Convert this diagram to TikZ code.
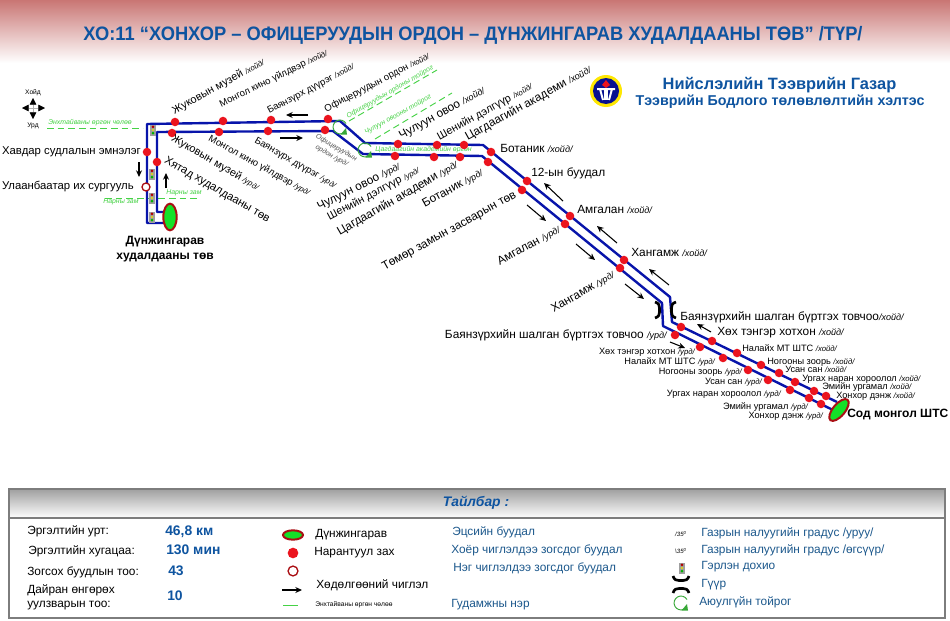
\documentclass[tikz,border=0pt]{standalone}
\usepackage{xcolor}
\usepackage{fontspec}
\setmainfont{Liberation Sans}
\usetikzlibrary{arrows.meta, positioning, calc, shapes.geometric}
\definecolor{RouteBlue}{RGB}{8, 20, 170}
\definecolor{TitleBlue}{RGB}{14, 84, 160}
\definecolor{LegendBlue}{RGB}{28, 88, 140}
\definecolor{StopRed}{RGB}{235, 20, 30}
\definecolor{RingRed}{RGB}{170, 15, 20}
\definecolor{EndGreen}{RGB}{20, 225, 40}
\definecolor{StreetGreen}{RGB}{70, 210, 70}
\definecolor{BandRed}{RGB}{201, 118, 116}
\definecolor{FrameGray}{RGB}{125, 125, 125}
\newcommand{\dirn}{{\fontsize{6.8}{7}\selectfont\itshape /хойд/}}
\newcommand{\dirs}{{\fontsize{6.8}{7}\selectfont\itshape /урд/}}
\newcommand{\dirnS}{{\fontsize{5.8}{6}\selectfont\itshape /хойд/}}
\newcommand{\dirsS}{{\fontsize{5.8}{6}\selectfont\itshape /урд/}}
\tikzset{
  routeline/.style={draw=RouteBlue, line width=1.8pt, line join=round},
  stopdot/.style={circle, fill=StopRed, minimum size=6.4pt, inner sep=0pt},
  hollowdot/.style={circle, fill=white, draw=RingRed, line width=1pt, minimum size=6pt, inner sep=0pt},
  endoval/.style={ellipse, fill=EndGreen, draw=RingRed, line width=1.5pt, inner sep=0pt},
  movearrow/.style={-{Stealth[length=5pt,width=4.5pt]}, line width=0.8pt, black},
  streetline/.style={draw=StreetGreen, dashed, dash pattern=on 5pt off 3pt, line width=0.7pt},
  streetname/.style={inner sep=0pt, text=StreetGreen, font=\fontsize{5.2}{6}\selectfont\itshape},
  lblhuge/.style={inner sep=0pt, anchor=west, font=\fontsize{8.9}{10}\selectfont},
  lblbig/.style={inner sep=0pt, anchor=west, font=\fontsize{8.5}{10}\selectfont},
  lblmid/.style={inner sep=0pt, anchor=west, font=\fontsize{8.2}{9.5}\selectfont},
  lblthin/.style={inner sep=0pt, anchor=west, font=\fontsize{7.2}{8.5}\selectfont},
  lblsmall/.style={inner sep=0pt, anchor=west, font=\fontsize{6.9}{8}\selectfont},
  lblbold/.style={inner sep=0pt, align=center, font=\fontsize{9}{11}\selectfont\bfseries},
  keytext/.style={inner sep=0pt, anchor=west, font=\fontsize{8.9}{10.5}\selectfont},
  keyblue/.style={keytext, text=LegendBlue},
  keyvalue/.style={inner sep=0pt, anchor=west, text=TitleBlue, font=\fontsize{10.4}{12}\selectfont\bfseries},
  signal/.pic={
    \fill[gray!75] (-3,-5.5) rectangle (3,5.5);
    \fill[red!70!black] (0,-3.2) circle (1.1pt);
    \fill[yellow!85!black] (0,0) circle (1.1pt);
    \fill[green!70!black] (0,3.2) circle (1.1pt);
  },
  bridgehalf/.pic={
    \draw[black, line width=2pt] (-3,-8) .. controls (1,-6.5) and (1.5,-5) .. (1.5,-2) -- (1.5,2)
      .. controls (1.5,5) and (1,6.5) .. (-3,8);
  },
  safering/.pic={
    \draw[StreetGreen!80!black, line width=0.7pt] (6,-3.5)
      arc[start angle=30, end angle=290, radius=5.2pt];
    \fill[StreetGreen!80!black] (0.5,7.5) -- (7,7.5) -- (6,1) -- cycle;
  }
}
\begin{document}
\begin{tikzpicture}[x=0.75pt, y=-0.75pt]
  \useasboundingbox (0,0) rectangle (950,621);
  \fill[white] (0,0) rectangle (950,621);
  \shade[top color=BandRed, bottom color=white] (0,0) rectangle (950,63);

  % heading
  \node[inner sep=0pt, xscale=0.94, text=TitleBlue, font=\fontsize{14.6}{17}\selectfont\bfseries] (title) at (473,35)
    {ХО:11 “ХОНХОР – ОФИЦЕРУУДЫН ОРДОН – ДҮНЖИНГАРАВ ХУДАЛДААНЫ ТӨВ” /ТҮР/};
  \node[circle, fill=yellow!90!orange, minimum size=24pt, inner sep=0pt] (logo) at (606,91) {};
  \node[circle, fill=RouteBlue!85!black, minimum size=19.5pt, inner sep=0pt] (logoin) at (606,91) {};
  \fill[StopRed] (606,80) -- (610,85) -- (606,88) -- (602,85) -- cycle;
  \draw[white, line width=1.5pt] (597,89) -- (615,89) (600,89) -- (603,100) (612,89) -- (609,100);
  \fill[white] (604,90) rectangle (608,100);
  \node[inner sep=0pt, text=TitleBlue, font=\fontsize{12.3}{14}\selectfont\bfseries] (cityname) at (779.5,85)
    {Нийслэлийн Тээврийн Газар};
  \node[inner sep=0pt, text=TitleBlue, font=\fontsize{10.7}{12}\selectfont\bfseries] (deptname) at (780,102)
    {Тээврийн Бодлого төлөвлөлтийн хэлтэс};

  % compass
  \node[inner sep=0pt] (compass) at (33,108) {};
  \node[inner sep=0pt, font=\fontsize{5}{6}\selectfont] (compassn) at (33,93) {Хойд};
  \node[inner sep=0pt, font=\fontsize{5}{6}\selectfont] (compasss) at (33,126) {Урд};
  \draw[gray!60, {Triangle[length=5pt,width=5pt,black]}-{Triangle[length=5pt,width=5pt,black]}] (22,108) -- (45,108);
  \draw[gray!60, {Triangle[length=5pt,width=5pt,black]}-{Triangle[length=5pt,width=5pt,black]}] (33,98) -- (33,119);

  % streets
  \draw[streetline] (47,128) -- (143,128);
  \draw[streetline] (105,198) -- (200,198);
  \draw[streetline] (349,121) -- (437,70);
  \draw[streetline] (375,139) -- (452,93);
  \node[streetname, anchor=west] (streetA) at (48,123) {Энхтайваны өргөн чөлөө};
  \node[streetname, anchor=west] (streetB) at (166,193) {Нарны зам};
  \node[streetname, anchor=west] (streetC) at (103,202) {Нарны зам};
  \node[streetname, anchor=west, rotate=30] (streetD) at (347,117) {Офицеруудын ордоны тойрог};
  \node[streetname, anchor=west, rotate=29] (streetE) at (365,133) {Чулуун овооны тойрог};
  \node[streetname, anchor=west] (streetF) at (375,150) {Цагдаагийн академийн өргөн};

  % route
  \coordinate (nA) at (165,223);
  \coordinate (nB) at (147,223);
  \coordinate (nC) at (147,124);
  \coordinate (nD) at (340,121);
  \coordinate (nE) at (365,143);
  \coordinate (nF) at (483,145);
  \coordinate (nG) at (670,297);
  \coordinate (nH) at (672,322);
  \coordinate (nI) at (837,402);
  \coordinate (sA) at (165,212);
  \coordinate (sB) at (157,212);
  \coordinate (sC) at (157,132);
  \coordinate (sD) at (333,131);
  \coordinate (sE) at (363,154);
  \coordinate (sF) at (482,156);
  \coordinate (sG) at (662,303);
  \coordinate (sH) at (663,326);
  \coordinate (sI) at (835,411);
  \draw[routeline] (nA) -- (nB) -- (nC) -- (nD) -- (nE) -- (nF) -- (nG) -- (nH) -- (nI);
  \draw[routeline] (sA) -- (sB) -- (sC) -- (sD) -- (sE) -- (sF) -- (sG) -- (sH) -- (sI);

  \pic at (153,130) {signal};
  \pic at (152,174) {signal};
  \pic at (152,198) {signal};
  \pic at (152,217) {signal};
  \pic at (658,310) {bridgehalf};
  \pic[rotate=180] at (673,310) {bridgehalf};
  \pic at (340,127) {safering};
  \pic at (365,150) {safering};

  \node[endoval, minimum width=10pt, minimum height=20pt] (depotW) at (170,217) {};
  \node[endoval, minimum width=20pt, minimum height=9pt, rotate=50] (depotE) at (839,410) {};

  % stops, northbound
  \node[stopdot] (zhukovN) at (175,122) {};
  \node[stopdot] (kinoN) at (223,121) {};
  \node[stopdot] (bayanN) at (271,120) {};
  \node[stopdot] (officerN) at (328,119) {};
  \node[stopdot] (ovooN) at (398,144) {};
  \node[stopdot] (sheniinN) at (437,145) {};
  \node[stopdot] (policeN) at (464,145) {};
  \node[stopdot] (botanikN) at (491,152) {};
  \node[stopdot] (twelveN) at (527,181) {};
  \node[stopdot] (amgalanN) at (570,216) {};
  \node[stopdot] (khangamjN) at (624,260) {};
  \node[stopdot] (checkN) at (681,327) {};
  \node[stopdot] (khukhN) at (712,341) {};
  \node[stopdot] (nalaikhN) at (737,353) {};
  \node[stopdot] (nogoonN) at (761,365) {};
  \node[stopdot] (usanN) at (779,373) {};
  \node[stopdot] (urgakhN) at (795,382) {};
  \node[stopdot] (emiinN) at (814,391) {};
  \node[stopdot] (khonkhorN) at (826,396) {};
  \node[stopdot] (cancerN) at (147,152) {};
  \node[hollowdot] (univN) at (146,187) {};

  % stops, southbound
  \node[stopdot] (zhukovS) at (172,133) {};
  \node[stopdot] (kinoS) at (219,132) {};
  \node[stopdot] (bayanS) at (268,131) {};
  \node[stopdot] (officerS) at (325,130) {};
  \node[stopdot] (ovooS) at (395,156) {};
  \node[stopdot] (sheniinS) at (434,157) {};
  \node[stopdot] (policeS) at (460,157) {};
  \node[stopdot] (botanikS) at (488,162) {};
  \node[stopdot] (railS) at (522,190) {};
  \node[stopdot] (amgalanS) at (565,224) {};
  \node[stopdot] (khangamjS) at (620,268) {};
  \node[stopdot] (checkS) at (675,335) {};
  \node[stopdot] (khukhS) at (700,347) {};
  \node[stopdot] (nalaikhS) at (723,358) {};
  \node[stopdot] (nogoonS) at (748,370) {};
  \node[stopdot] (usanS) at (768,380) {};
  \node[stopdot] (urgakhS) at (790,390) {};
  \node[stopdot] (emiinS) at (809,398) {};
  \node[stopdot] (khonkhorS) at (821,404) {};
  \node[stopdot] (chinaS) at (157,162) {};

  % direction arrows
  \draw[movearrow] (308,115) -- (286,115);
  \draw[movearrow] (280,138) -- (303,138);
  \draw[movearrow] (139,162) -- (139,177);
  \draw[movearrow] (166,188) -- (166,173);
  \draw[movearrow] (563,201) -- (544,183);
  \draw[movearrow] (617,243) -- (597,226);
  \draw[movearrow] (669,285) -- (649,269);
  \draw[movearrow] (527,205) -- (546,221);
  \draw[movearrow] (576,244) -- (595,260);
  \draw[movearrow] (625,284) -- (644,299);
  \draw[movearrow] (711,332) -- (697,324);
  \draw[movearrow] (670,342) -- (685,348);

  % labels, west side
  \node[lblbig, anchor=east] (cancerL) at (141,152) {Хавдар судлалын эмнэлэг};
  \node[lblbig, anchor=east] (univL) at (134,187) {Улаанбаатар их сургууль};
  \node[lblbold] (depotWL) at (165,249) {Дүнжингарав\\худалдааны төв};
  \node[lblmid, rotate=29] (zhukovNL) at (173,112) {Жуковын музей \dirnS};
  \node[lblthin, rotate=26] (kinoNL) at (220,105) {Монгол кино үйлдвэр \dirnS};
  \node[lblthin, rotate=28] (bayanNL) at (268,112) {Баянзүрх дүүрэг \dirnS};
  \node[lblthin, rotate=27.5] (officerNL) at (325,110) {Офицеруудын ордон \dirnS};
  \node[lblmid, rotate=-30] (zhukovSL) at (172,138) {Жуковын музей \dirsS};
  \node[lblbig, rotate=-30] (chinaSL) at (165,160) {Хятад худалдааны төв};
  \node[lblthin, rotate=-29] (kinoSL) at (209,138) {Монгол кино үйлдвэр \dirsS};
  \node[lblthin, rotate=-30] (bayanSL) at (255,140) {Баянзүрх дүүрэг \dirsS};
  \node[inner sep=0pt, rotate=-30, align=center, text=black!70, font=\fontsize{5.2}{7}\selectfont\itshape] (officerSL) at (334,152)
    {Офицеруудын\\ордон /урд/};

  % labels, middle
  \node[lblhuge, rotate=29] (ovooNL) at (400,137) {Чулуун овоо \dirn};
  \node[lblmid, rotate=29] (sheniinNL) at (438,138) {Шенийн дэлгүүр \dirnS};
  \node[lblhuge, rotate=29] (policeNL) at (466,138) {Цагдаагийн академи \dirn};
  \node[lblhuge, rotate=27] (ovooSL) at (318,208) {Чулуун овоо \dirs};
  \node[lblmid, rotate=28] (sheniinSL) at (328,218) {Шенийн дэлгүүр \dirsS};
  \node[lblhuge, rotate=30] (policeSL) at (338,233) {Цагдаагийн академи \dirs};
  \node[lblhuge, rotate=29] (botanikSL) at (423,205) {Ботаник \dirs};
  \node[lblhuge, rotate=29] (railSL) at (383,268) {Төмөр замын засварын төв};
  \node[lblhuge, rotate=29] (amgalanSL) at (498,263) {Амгалан \dirs};
  \node[lblhuge, rotate=30] (khangamjSL) at (552,310) {Хангамж \dirs};
  \node[lblhuge] (botanikNL) at (500,148) {Ботаник \dirn};
  \node[lblhuge] (twelveNL) at (531,173) {12-ын буудал};
  \node[lblhuge] (amgalanNL) at (577,209) {Амгалан \dirn};
  \node[lblhuge] (khangamjNL) at (631,252) {Хангамж \dirn};

  % labels, east side
  \node[lblhuge] (checkNL) at (680,317) {Баянзүрхийн шалган бүртгэх товчоо\dirn};
  \node[lblhuge, anchor=east] (checkSL) at (667,335) {Баянзүрхийн шалган бүртгэх товчоо \dirs};
  \node[lblhuge] (khukhNL) at (717,333) {Хөх тэнгэр хотхон \dirn};
  \node[lblsmall] (nalaikhNL) at (742,348) {Налайх МТ ШТС \dirnS};
  \node[lblsmall] (nogoonNL) at (767,362) {Ногооны зоорь \dirnS};
  \node[lblsmall] (usanNL) at (785,369) {Усан сан \dirnS};
  \node[lblsmall] (urgakhNL) at (802,379) {Ургах наран хороолол \dirnS};
  \node[lblsmall] (emiinNL) at (822,387) {Эмийн ургамал \dirnS};
  \node[lblsmall] (khonkhorNL) at (836,396) {Хонхор дэнж \dirnS};
  \node[lblbold, anchor=west] (depotEL) at (847,415) {Сод монгол ШТС};
  \node[lblsmall, anchor=east] (khukhSL) at (695,352) {Хөх тэнгэр хотхон \dirsS};
  \node[lblsmall, anchor=east] (nalaikhSL) at (715,362) {Налайх МТ ШТС \dirsS};
  \node[lblsmall, anchor=east] (nogoonSL) at (742,372) {Ногооны зоорь \dirsS};
  \node[lblsmall, anchor=east] (usanSL) at (762,382) {Усан сан \dirsS};
  \node[lblsmall, anchor=east] (urgakhSL) at (781,394) {Ургах наран хороолол \dirsS};
  \node[lblsmall, anchor=east] (emiinSL) at (808,407) {Эмийн ургамал \dirsS};
  \node[lblsmall, anchor=east] (khonkhorSL) at (823,416) {Хонхор дэнж \dirsS};

  % legend
  \shade[top color=gray!75, bottom color=white] (9,489) rectangle (945,518);
  \draw[FrameGray, line width=1.6pt] (9,489) rectangle (945,618);
  \draw[FrameGray, line width=1.6pt] (9,518) -- (945,518);
  \node[inner sep=0pt, text=TitleBlue, font=\fontsize{10.4}{12}\selectfont\bfseries\itshape] (keyhead) at (476,503) {Тайлбар :};
  \node[keytext] (keylen) at (27,531) {Эргэлтийн урт:};
  \node[keytext] (keytime) at (28,551) {Эргэлтийн хугацаа:};
  \node[keytext] (keystops) at (27,572) {Зогсох буудлын тоо:};
  \node[keytext, align=left] (keycross) at (27,597) {Дайран өнгөрөх\\уулзварын тоо:};
  \node[keyvalue] (vallen) at (165,532) {46,8 км};
  \node[keyvalue] (valtime) at (166,550) {130 мин};
  \node[keyvalue] (valstops) at (168,571) {43};
  \node[keyvalue] (valcross) at (167,596) {10};
  \node[endoval, minimum width=15pt, minimum height=7pt] (symdepot) at (293,535) {};
  \node[stopdot, minimum size=8pt] (symstop) at (293,553) {};
  \node[hollowdot, minimum size=7.4pt] (symhollow) at (293,571) {};
  \coordinate (symarrowA) at (282,590);
  \coordinate (symarrowB) at (302,590);
  \coordinate (symstreetA) at (283,605);
  \coordinate (symstreetB) at (298,605);
  \draw[movearrow] (symarrowA) -- (symarrowB);
  \draw[StreetGreen, line width=0.7pt] (symstreetA) -- (symstreetB);
  \node[keytext] (txtdepot) at (315,535) {Дүнжингарав};
  \node[keytext] (txtmarket) at (314,553) {Нарантуул зах};
  \node[keytext] (txtmove) at (316,585) {Хөдөлгөөний чиглэл};
  \node[inner sep=0pt, anchor=west, font=\fontsize{5}{6}\selectfont] (txtstreet) at (315,605) {Энхтайваны өргөн чөлөө};
  \node[keyblue] (txtlast) at (452,532) {Эцсийн буудал};
  \node[keyblue] (txttwo) at (451,550) {Хоёр чиглэлдээ зогсдог буудал};
  \node[keyblue] (txtone) at (453,568) {Нэг чиглэлдээ зогсдог буудал};
  \node[keyblue] (txtname) at (451,605) {Гудамжны нэр};
  \node[inner sep=0pt, font=\fontsize{4.6}{5}\selectfont\itshape] (symdown) at (681,534) {/35\textsuperscript{0}};
  \node[inner sep=0pt, font=\fontsize{4.6}{5}\selectfont\itshape] (symup) at (681,551) {\textbackslash 35\textsuperscript{0}};
  \pic at (682,568) {signal};
  \pic[rotate=-90] at (681,579) {bridgehalf};
  \pic[rotate=90] at (681,590) {bridgehalf};
  \pic at (681,603) {safering};
  \node[keyblue] (txtdown) at (701,533) {Газрын налуугийн градус /уруу/};
  \node[keyblue] (txtup) at (701,550) {Газрын налуугийн градус /өгсүүр/};
  \node[keyblue] (txtsignal) at (701,567) {Гэрлэн дохио};
  \node[keyblue] (txtbridge) at (701,585) {Гүүр};
  \node[keyblue] (txtring) at (699,602) {Аюулгүйн тойрог};
\end{tikzpicture}
\end{document}
